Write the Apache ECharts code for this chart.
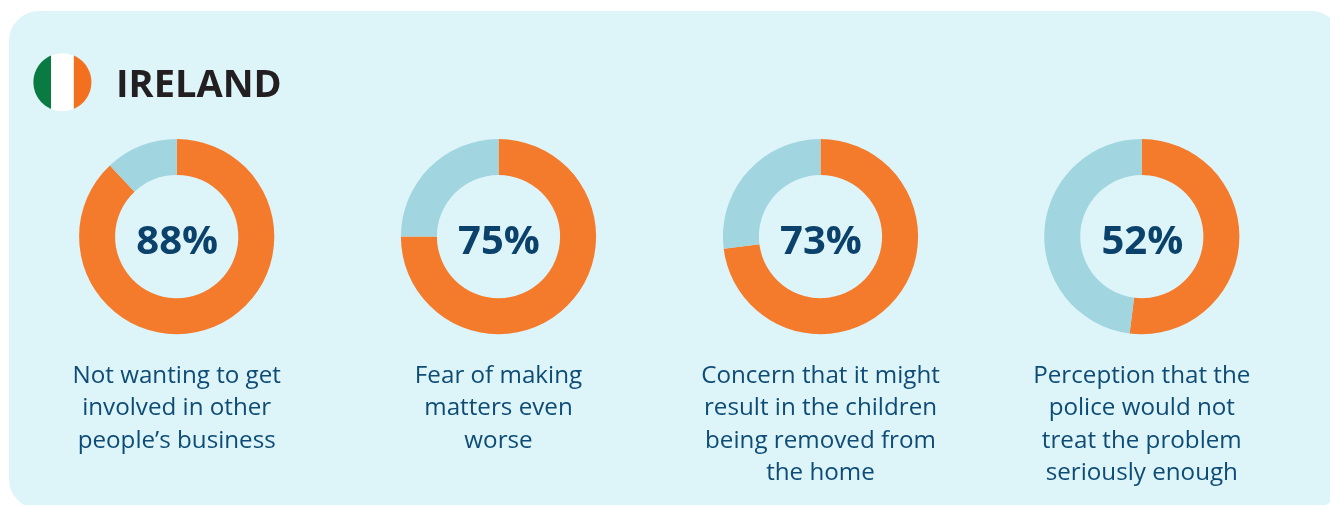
<!DOCTYPE html>
<html><head><meta charset="utf-8">
<style>html,body{margin:0;padding:0;background:#fff}#c{width:1330px;height:505px}</style>
<script src="https://cdn.jsdelivr.net/npm/echarts@6/dist/echarts.min.js"></script>
</head><body><div id="c"></div>
<script>
const countryName = 'IRELAND';
const percentages = [88, 75, 73, 52];
const descriptions = [
  "Not wanting to get\ninvolved in other\npeople’s business",
  "Fear of making\nmatters even\nworse",
  "Concern that it might\nresult in the children\nbeing removed from\nthe home",
  "Perception that the\npolice would not\ntreat the problem\nseriously enough"
];
const centersX = [176.7, 498.5, 820.5, 1141.8];
const orange = '#F47B2B', pale = '#A1D5DF', navy = '#0B426C', textBlue = '#0E4C75';
const font = '"Open Sans", "Noto Sans", sans-serif';

function flagSegment(cx, cy, r, dist, side) {
  const a = Math.acos(dist / r), pts = [];
  for (let k = 0; k <= 40; k++) {
    const t = -a + 2 * a * k / 40;
    pts.push([cx + side * r * Math.cos(t), cy + r * Math.sin(t)]);
  }
  return pts;
}

const chart = echarts.init(document.getElementById('c'), null, {renderer: 'canvas'});
chart.setOption({
  animation: false,
  backgroundColor: '#fff',
  graphic: [
    {type: 'rect', z: -10, shape: {x: 9, y: 11, width: 1332, height: 498, r: 30}, style: {fill: '#DDF4F9'}},
    {type: 'circle', z: -5, shape: {cx: 62.4, cy: 82.2, r: 29}, style: {fill: '#fff'}},
    {type: 'polygon', z: -4, shape: {points: flagSegment(62.4, 82.2, 29, 11.4, -1)}, style: {fill: '#087A42'}},
    {type: 'polygon', z: -4, shape: {points: flagSegment(62.4, 82.2, 29, 11.4, 1)}, style: {fill: '#F37021'}},
    {type: 'text', x: 116, y: 86, style: {text: countryName, font: '700 38px ' + font, fill: '#231F20', textVerticalAlign: 'middle'}}
  ].concat(descriptions.map((d, i) => ({
    type: 'text', x: centersX[i], y: 360,
    style: {text: d, font: '400 24.2px ' + font, lineHeight: 32.4, fill: textBlue, textAlign: 'center', textVerticalAlign: 'top'}
  }))),
  series: percentages.map((p, i) => ({
    type: 'pie',
    center: [centersX[i], 236.6],
    radius: [61.6, 97.6],
    startAngle: 90,
    clockwise: true,
    silent: true,
    label: {show: false},
    labelLine: {show: false},
    itemStyle: {borderWidth: 0},
    data: [
      {value: p, itemStyle: {color: orange},
        label: {show: true, position: 'center', offset: [0.5, 6], formatter: p + '%', fontFamily: font, fontWeight: 700, fontSize: 40, color: navy, lineHeight: 60}},
      {value: 100 - p, itemStyle: {color: pale}}
    ]
  }))
});
</script></body></html>
